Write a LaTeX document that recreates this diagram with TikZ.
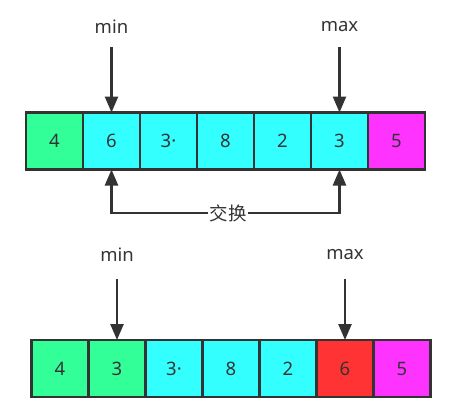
\documentclass[tikz,border=0pt]{standalone}
\usepackage{fontspec}
\setmainfont{Noto Sans}
\newfontfamily\cjk{Noto Sans CJK SC}
\usetikzlibrary{positioning,arrows.meta}

\definecolor{verde}{HTML}{33FF99}
\definecolor{ciano}{HTML}{33FFFF}
\definecolor{viola}{HTML}{FF33FF}
\definecolor{rosso}{HTML}{FF3333}
\definecolor{scuro}{HTML}{333333}

\tikzset{
    cella/.style={draw=scuro, line width=2.5pt, minimum size=57pt, inner sep=0pt, outer sep=0pt,
        font=\fontsize{18.5}{18.5}\selectfont, text=scuro},
    etichetta/.style={font=\fontsize{18.5}{18.5}\selectfont, text=scuro, inner sep=2pt},
    freccia/.style={draw=scuro, line width=2.5pt, -{Triangle[length=16pt,width=13pt]}}
}

\begin{document}
\begin{tikzpicture}[x=1pt, y=-1pt]
        \useasboundingbox (0,0) rectangle (470,413);

        % Celle superiori
        \node[cella, fill=verde] (a1) at (54.5,141) {4};
        \node[cella, fill=ciano, right=0pt of a1] (a2) {6};
        \node[cella, fill=ciano, right=0pt of a2] (a3) {3·};
        \node[cella, fill=ciano, right=0pt of a3] (a4) {8};
        \node[cella, fill=ciano, right=0pt of a4] (a5) {2};
        \node[cella, fill=ciano, right=0pt of a5] (a6) {3};
        \node[cella, fill=viola, right=0pt of a6] (a7) {5};

        % Indici sopra
        \node[etichetta] (min1) at (111.5,27) {min};
        \node[etichetta] (max1) at (339.5,27) {max};
        \coordinate (m1) at (111.5,47);
        \coordinate (M1) at (339.5,47);
        \draw[freccia] (m1) -- (a2.north);
        \draw[freccia] (M1) -- (a6.north);

        % Scambio
        \node[font=\cjk\fontsize{18.5}{18.5}\selectfont, text=scuro, inner sep=1pt] (scambio) at (228,213) {交换};
        \draw[freccia] (scambio.west) -| (a2.south);
        \draw[freccia] (scambio.east) -| (a6.south);

        % Celle inferiori
        \node[cella, fill=verde] (b1) at (60,368.5) {4};
        \node[cella, fill=verde, right=0pt of b1] (b2) {3};
        \node[cella, fill=ciano, right=0pt of b2] (b3) {3·};
        \node[cella, fill=ciano, right=0pt of b3] (b4) {8};
        \node[cella, fill=ciano, right=0pt of b4] (b5) {2};
        \node[cella, fill=rosso, right=0pt of b5] (b6) {6};
        \node[cella, fill=viola, right=0pt of b6] (b7) {5};

        % Indici sotto
        \node[etichetta] (min2) at (117,255) {min};
        \node[etichetta] (max2) at (345,255) {max};
        \coordinate (m2) at (117,279);
        \coordinate (M2) at (345,279);
        \draw[freccia] (m2) -- (b2.north);
        \draw[freccia] (M2) -- (b6.north);
    \end{tikzpicture}
\end{document}
